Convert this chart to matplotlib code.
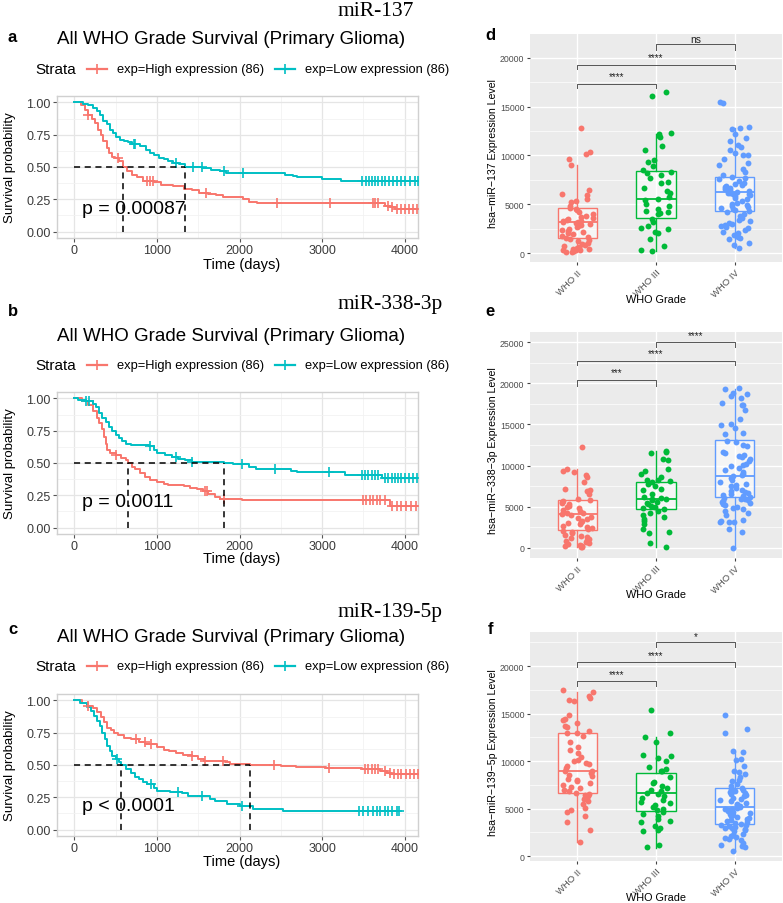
import numpy as np
import matplotlib
matplotlib.use("Agg")
import matplotlib.pyplot as plt
from matplotlib.lines import Line2D

plt.rcParams['font.family'] = ['Liberation Sans', 'DejaVu Sans']

W, H = 783, 904
RED, TEAL = '#F8766D', '#00BFC4'
BOXCOL = ['#F8766D', '#00BA38', '#619CFF']

# ---------------- Kaplan-Meier data ----------------
a_high_t = [0, 75, 130, 170, 210, 250, 290, 320, 350, 390, 420, 450, 490, 540, 590, 640, 700, 760, 830,
            960, 1050, 1200, 1330, 1420, 1510, 1620, 1710, 1800, 2040, 2120, 2210, 3760, 3820, 3880]
a_high_s = [1.0, 0.98, 0.94, 0.90, 0.87, 0.84, 0.79, 0.75, 0.70, 0.65, 0.61, 0.58, 0.57, 0.55, 0.50, 0.47,
            0.44, 0.42, 0.39, 0.38, 0.36, 0.35, 0.33, 0.32, 0.30, 0.29, 0.28, 0.27, 0.25, 0.23, 0.22, 0.20,
            0.19, 0.175]
a_high_c = [170, 530, 880, 920, 950, 1590, 2450, 3100, 3620, 3640, 3670, 3800, 3850, 3900, 3950, 4000,
            4050, 4100, 4150, 4250]
a_low_t = [0, 110, 170, 230, 270, 310, 350, 390, 430, 470, 510, 550, 600, 650, 700, 800, 870, 920, 960,
           1020, 1080, 1130, 1200, 1270, 1340, 1550, 1650, 1760, 1830, 2550, 2650, 2700, 3000, 3230]
a_low_s = [1.0, 0.99, 0.98, 0.96, 0.93, 0.90, 0.86, 0.83, 0.79, 0.76, 0.73, 0.71, 0.70, 0.69, 0.68, 0.66,
           0.63, 0.61, 0.59, 0.57, 0.56, 0.55, 0.53, 0.52, 0.50, 0.49, 0.48, 0.47, 0.455, 0.44, 0.43, 0.42,
           0.41, 0.395]
a_low_c = [720, 740, 1230, 1440, 1540, 1810, 2040, 3480, 3530, 3570, 3600, 3640, 3680, 3720, 3760, 3810,
           3860, 3900, 3950, 4000, 4060, 4120, 4160, 4250]
a_medians = [590, 1340]

b_high_t = [0, 90, 170, 230, 270, 300, 330, 360, 380, 400, 430, 500, 560, 620, 650, 700, 740, 800, 850,
            920, 1000, 1080, 1130, 1330, 1400, 1480, 1560, 1620, 1700, 1760, 2030, 3820]
b_high_s = [1.0, 0.98, 0.95, 0.90, 0.85, 0.81, 0.76, 0.70, 0.65, 0.60, 0.58, 0.56, 0.54, 0.52, 0.50, 0.47,
            0.45, 0.42, 0.39, 0.37, 0.35, 0.34, 0.33, 0.32, 0.31, 0.30, 0.28, 0.26, 0.24, 0.22, 0.21, 0.17]
b_high_c = [500, 1580, 1610, 1810, 3500, 3530, 3580, 3620, 3660, 3700, 3760, 3850, 3900, 3960, 4020,
            4080, 4140, 4250]
b_low_t = [0, 50, 140, 220, 260, 300, 340, 380, 420, 460, 500, 540, 580, 620, 680, 900, 960, 1000, 1100,
           1180, 1260, 1340, 1420, 1810, 1920, 2120, 2200, 2620, 2700, 3280, 3720]
b_low_s = [1.0, 0.99, 0.98, 0.96, 0.93, 0.89, 0.85, 0.82, 0.78, 0.75, 0.72, 0.69, 0.67, 0.65, 0.64, 0.63,
           0.60, 0.58, 0.56, 0.55, 0.53, 0.52, 0.51, 0.50, 0.49, 0.47, 0.455, 0.44, 0.43, 0.41, 0.385]
b_low_c = [140, 180, 920, 1230, 1430, 2030, 2430, 3080, 3480, 3520, 3560, 3600, 3640, 3680, 3760, 3800,
           3840, 3880, 3920, 3960, 4000, 4050, 4100, 4150, 4250]
b_medians = [652, 1810]

c_high_t = [0, 90, 170, 230, 280, 320, 360, 400, 440, 480, 530, 600, 680, 780, 860, 1000, 1080, 1150, 1230,
            1320, 1420, 1500, 1570, 1820, 1890, 2130, 2500, 2680, 3050, 3480, 3700, 3780, 3830]
c_high_s = [1.0, 0.98, 0.96, 0.94, 0.91, 0.87, 0.83, 0.79, 0.77, 0.75, 0.73, 0.71, 0.70, 0.68, 0.66, 0.64,
            0.62, 0.61, 0.59, 0.58, 0.57, 0.55, 0.53, 0.52, 0.51, 0.50, 0.495, 0.485, 0.48, 0.47, 0.455,
            0.44, 0.43]
c_high_c = [170, 750, 850, 930, 1430, 1580, 1800, 2420, 3080, 3520, 3560, 3600, 3640, 3680, 3760, 3820,
            3870, 3920, 3960, 4010, 4060, 4110, 4160, 4250]
c_low_t = [0, 70, 150, 200, 240, 280, 310, 340, 370, 400, 430, 460, 500, 540, 570, 620, 680, 730, 780, 830,
           880, 960, 1000, 1160, 1300, 1370, 1640, 1700, 1850, 2010, 2160, 2530, 3220]
c_low_s = [1.0, 0.98, 0.95, 0.92, 0.88, 0.84, 0.80, 0.75, 0.70, 0.65, 0.61, 0.57, 0.55, 0.52, 0.50, 0.47,
           0.44, 0.41, 0.39, 0.37, 0.35, 0.32, 0.30, 0.29, 0.28, 0.26, 0.24, 0.22, 0.20, 0.18, 0.16, 0.145,
           0.14]
c_low_c = [520, 930, 1250, 1550, 2030, 3450, 3500, 3560, 3620, 3660, 3700, 3760, 3800, 3850, 3900, 3930]
c_medians = [570, 2128]

p_texts = ["p = 0.00087", "p = 0.0011", "p < 0.0001"]
mirnas = ["miR-137", "miR-338-3p", "miR-139-5p"]

# ---------------- expression data (thousands) ----------------
grades = ["WHO II", "WHO III", "WHO IV"]

d_ii = [12.8, 10.4, 10.2, 9.6, 9.0, 6.5, 6.0, 5.9, 5.5, 5.3, 5.2, 4.8, 4.6, 4.5, 4.4, 4.2, 4.0, 3.8, 3.7,
        3.6, 3.5, 3.4, 3.3, 3.3, 3.2, 3.2, 3.1, 3.0, 2.9, 2.8, 2.7, 2.5, 2.4, 2.3, 2.2, 2.0, 1.9, 1.7, 1.6,
        1.5, 1.4, 1.3, 1.2, 1.0, 0.9, 0.8, 0.7, 0.6, 0.5, 0.4, 0.4, 0.3, 0.3, 0.2, 0.15, 0.1]
d_iii = [16.5, 16.1, 12.3, 12.2, 12.0, 11.9, 11.0, 10.6, 9.5, 9.3, 8.9, 8.5, 8.3, 8.2, 8.0, 7.7, 7.3, 7.2,
         6.7, 6.4, 6.2, 5.7, 5.5, 5.4, 5.0, 4.8, 4.5, 4.3, 4.2, 4.1, 4.0, 3.5, 3.2, 2.8, 2.6, 2.5, 2.2,
         2.0, 1.4, 0.7, 0.35, 0.2]
d_iv = [15.5, 15.4, 12.9, 12.8, 12.7, 12.2, 11.8, 11.5, 11.1, 10.9, 10.6, 10.3, 10.1, 10.0, 9.6, 9.2, 9.0,
        8.6, 8.3, 8.0, 7.8, 7.7, 7.6, 7.4, 7.2, 7.1, 7.0, 6.9, 6.8, 6.7, 6.6, 6.5, 6.4, 6.3, 6.2, 6.2, 6.1,
        6.0, 5.9, 5.8, 5.6, 5.5, 5.3, 5.1, 5.0, 4.9, 4.8, 4.7, 4.6, 4.5, 4.4, 4.3, 4.2, 4.0, 3.8, 3.6, 3.4,
        3.3, 3.1, 3.0, 2.9, 2.8, 2.7, 2.6, 2.4, 2.2, 2.0, 1.8, 1.6, 1.5, 1.4, 1.0, 0.8, 0.5]
e_ii = [12.2, 9.6, 9.4, 9.2, 8.8, 8.6, 8.0, 7.2, 7.0, 6.9, 6.5, 6.0, 5.8, 5.7, 5.6, 5.5, 5.3, 5.1, 5.0, 4.8,
        4.6, 4.5, 4.3, 4.2, 4.1, 4.0, 3.8, 3.6, 3.5, 3.3, 3.2, 3.0, 2.9, 2.7, 2.5, 2.4, 2.3, 2.1, 2.0, 1.8,
        1.6, 1.4, 1.3, 1.2, 1.1, 1.0, 0.9, 0.7, 0.6, 0.5, 0.4, 0.3, 0.3, 0.2, 0.15, 0.1]
e_iii = [11.8, 11.6, 11.5, 10.8, 10.7, 9.6, 9.3, 9.0, 8.6, 8.3, 8.2, 8.1, 8.0, 7.8, 7.5, 7.2, 7.0, 6.6,
         6.2, 6.1, 6.0, 5.9, 5.8, 5.6, 5.5, 5.3, 5.1, 5.0, 4.9, 4.7, 4.5, 4.3, 4.0, 3.8, 3.5, 3.3, 2.9,
         2.3, 2.0, 1.8, 0.6, 0.15]
e_iv = [19.4, 19.3, 18.8, 18.7, 18.5, 18.2, 17.6, 17.4, 17.3, 16.8, 15.7, 15.0, 14.9, 14.6, 14.0, 13.8,
        13.0, 12.9, 12.5, 12.4, 11.6, 11.5, 11.3, 11.2, 11.0, 10.8, 10.6, 10.2, 10.1, 9.9, 9.7, 9.5, 9.2,
        9.0, 8.8, 8.7, 8.5, 8.3, 8.0, 7.8, 7.6, 7.5, 7.3, 7.0, 6.9, 6.8, 6.7, 6.6, 6.4, 6.3, 6.2, 6.1, 6.0,
        5.9, 5.8, 5.7, 5.6, 5.5, 5.3, 5.2, 5.0, 4.9, 4.7, 4.5, 4.3, 4.0, 3.4, 3.3, 3.2, 3.1, 3.1, 2.3, 2.0,
        0.0]
f_ii = [17.5, 17.3, 16.8, 16.6, 16.4, 16.3, 14.8, 14.4, 14.3, 14.0, 13.7, 13.6, 13.2, 13.0, 12.9, 12.6,
        12.0, 11.5, 11.2, 10.8, 10.4, 10.1, 10.0, 9.8, 9.7, 9.5, 9.3, 9.0, 8.9, 8.7, 8.5, 8.4, 8.1, 8.0,
        7.9, 7.7, 7.5, 7.3, 7.2, 6.9, 6.8, 6.6, 6.5, 6.4, 6.3, 6.1, 6.0, 5.8, 5.5, 5.1, 4.8, 4.6, 4.2,
        3.6, 2.7, 1.5]
f_iii = [15.4, 13.0, 12.5, 12.0, 10.6, 10.5, 10.3, 10.0, 9.4, 9.2, 9.0, 8.9, 8.3, 7.8, 7.7, 7.4, 7.2, 7.0,
         6.8, 6.6, 6.5, 6.3, 6.1, 5.9, 5.7, 5.6, 5.4, 5.2, 5.0, 4.8, 4.6, 4.4, 4.2, 3.9, 3.7, 3.6, 3.2,
         3.0, 2.7, 2.6, 1.2, 0.9]
f_iv = [14.8, 13.4, 12.9, 11.1, 11.0, 10.2, 10.1, 9.5, 9.0, 8.8, 8.6, 8.3, 8.0, 7.9, 7.6, 7.4, 7.2, 7.1,
        7.0, 6.9, 6.8, 6.7, 6.6, 6.5, 6.4, 6.3, 6.1, 6.0, 5.9, 5.8, 5.6, 5.5, 5.4, 5.3, 5.2, 5.1, 5.0, 4.9,
        4.8, 4.7, 4.6, 4.5, 4.4, 4.3, 4.2, 4.1, 4.0, 3.9, 3.8, 3.7, 3.6, 3.5, 3.4, 3.3, 3.3, 3.2, 3.1,
        3.0, 2.9, 2.8, 2.7, 2.6, 2.3, 2.2, 2.1, 2.0, 1.9, 1.8, 1.7, 1.4, 1.2, 1.1, 1.0, 0.5]

# box statistics (thousands): q1, median, q3, lower whisker, upper whisker
d_box = [[1.50, 3.21, 4.57, 0.10, 9.04], [3.55, 5.49, 8.36, 0.20, 12.25], [4.33, 6.21, 7.82, 0.50, 12.87]]
e_box = [[2.23, 4.18, 5.80, 0.10, 9.58], [4.71, 5.97, 8.04, 0.12, 11.8], [6.13, 8.68, 13.1, 0.0, 19.3]]
f_box = [[6.62, 8.98, 12.92, 1.48, 17.3], [4.75, 6.58, 8.70, 0.88, 12.5], [3.42, 5.21, 7.11, 0.53, 11.0]]

# significance brackets: (from, to, label)
d_sig = [(1, 2, "****"), (1, 3, "****"), (2, 3, "ns")]
e_sig = [(1, 2, "***"), (1, 3, "****"), (2, 3, "****")]
f_sig = [(1, 2, "****"), (1, 3, "****"), (2, 3, "*")]

fig = plt.figure(figsize=(W / 100, H / 100), dpi=100)


def px_axes(L, R, T, B):
    return fig.add_axes([L / W, 1 - B / H, (R - L) / W, (B - T) / H])


def ftext(x, y, s, **kw):
    fig.text(x / W, 1 - y / H, s, **kw)


def step_curve(ax, t, s, cens, col):
    t = np.array(t, float)
    s = np.array(s, float)
    end = max(t[-1], max(cens))
    tt = np.append(t, end)
    ss = np.append(s, s[-1])
    ax.step(tt, ss, where='post', color=col, lw=1.4, zorder=3)
    idx = np.searchsorted(t, cens, side='right') - 1
    ax.plot(cens, s[idx], '+', ms=7, mew=1.2, color=col, zorder=4, clip_on=True)


km_rows = [
    (97, 239, a_high_t, a_high_s, a_high_c, a_low_t, a_low_s, a_low_c, a_medians),
    (393, 535, b_high_t, b_high_s, b_high_c, b_low_t, b_low_s, b_low_c, b_medians),
    (695, 837, c_high_t, c_high_s, c_high_c, c_low_t, c_low_s, c_low_c, c_medians),
]
title_y = [40, 337, 638]
legend_y = [70, 366, 667]
mir_y = [11, 305, 612]
letter_y = [37, 312, 630]
tlab_y = [265, 559, 862]
p_y = [0.18, 0.20, 0.19]

for i, (T, B, ht, hs, hc, lt, ls, lc, meds) in enumerate(km_rows):
    ax = px_axes(57, 418, T, B)
    ax.set_xlim(-210, 4160)
    ax.set_ylim(-0.05, 1.05)
    ax.set_xticks([0, 1000, 2000, 3000, 4000])
    ax.set_yticks([0, 0.25, 0.5, 0.75, 1.0])
    ax.set_yticklabels(["0.00", "0.25", "0.50", "0.75", "1.00"])
    ax.set_xticks([500, 1500, 2500, 3500], minor=True)
    ax.set_yticks([0.125, 0.375, 0.625, 0.875], minor=True)
    ax.grid(True, which='major', color='#E5E5E5', lw=0.9)
    ax.grid(True, which='minor', color='#F2F2F2', lw=0.6)
    ax.set_axisbelow(True)
    for sp in ax.spines.values():
        sp.set_color('#D0D0D0')
        sp.set_linewidth(1.0)
    ax.tick_params(which='major', length=3, color='#555555', labelsize=9, labelcolor='#3A3A3A', pad=1.5)
    ax.tick_params(which='minor', length=0)

    step_curve(ax, ht, hs, hc, RED)
    step_curve(ax, lt, ls, lc, TEAL)

    ax.plot([0, max(meds)], [0.5, 0.5], color='black', lw=1.1, dashes=(4, 3), zorder=5)
    for m in meds:
        ax.plot([m, m], [0, 0.5], color='black', lw=1.1, dashes=(4, 3), zorder=5)
    ax.text(90, p_y[i], p_texts[i], fontsize=14, va='center', ha='left', zorder=6)

    ftext(57, title_y[i], "All WHO Grade Survival (Primary Glioma)", fontsize=13.5, va='center', ha='left')
    ftext(35, legend_y[i], "Strata", fontsize=11, va='center', ha='left')
    for x0, col, lab in [(87, RED, "exp=High expression (86)"), (275, TEAL, "exp=Low expression (86)")]:
        fig.add_artist(Line2D([x0 / W, (x0 + 20) / W], [1 - legend_y[i] / H] * 2, color=col, lw=1.6))
        fig.add_artist(Line2D([(x0 + 10) / W], [1 - legend_y[i] / H], marker='+', ms=7, mew=1.2, color=col))
        ftext(x0 + 30, legend_y[i], lab, fontsize=9.3, va='center', ha='left')
    ftext(337, mir_y[i], mirnas[i], fontsize=15.5, family='Liberation Serif', va='center', ha='left')
    ftext(8, letter_y[i], "abc"[i], fontsize=12, fontweight='bold', va='center', ha='left')
    ftext(242, tlab_y[i], "Time (days)", fontsize=10.5, va='center', ha='center')
    ftext(10, (T + B) / 2, "Survival probability", fontsize=9.5, va='center', ha='center', rotation=90)

# ---------------- box plots ----------------
box_rows = [
    (35, 263, (-923, 22460), [0, 5000, 10000, 15000, 20000], [d_ii, d_iii, d_iv], d_box, d_sig,
     [(17.37, 16.96, 18.1), (19.3, 18.85, 20.1), (21.4, 20.85, 21.95)], "hsa\u2212miR\u2212137 Expression Level"),
    (333, 559, (-1214, 26214), [0, 5000, 10000, 15000, 20000, 25000], [e_ii, e_iii, e_iv], e_box, e_sig,
     [(20.33, 19.7, 21.3), (22.7, 22.2, 23.6), (25.0, 24.4, 25.9)], "hsa\u2212miR\u2212338\u22123p Expression Level"),
    (633, 862, (-526, 23579), [0, 5000, 10000, 15000, 20000], [f_ii, f_iii, f_iv], f_box, f_sig,
     [(18.45, 17.9, 19.1), (20.45, 19.9, 21.2), (22.5, 22.0, 23.2)], "hsa\u2212miR\u2212139\u22125p Expression Level"),
]
grade_y = [300, 595, 898]
rng = np.random.default_rng(7)

for i, (T, B, ylim, yt, groups, bstats, sig, sig_pos, ylab) in enumerate(box_rows):
    ax = px_axes(530, 782, T, B)
    ax.set_facecolor('#EBEBEB')
    for sp in ax.spines.values():
        sp.set_visible(False)
    ax.set_xlim(0.4, 3.6)
    ax.set_ylim(*ylim)
    ax.set_yticks(yt)
    ax.set_yticklabels([str(v) for v in yt])
    ax.set_yticks([v + 2500 for v in yt[:-1]] + ([yt[-1] + 2500] if yt[-1] + 2500 < ylim[1] else []), minor=True)
    ax.set_xticks([1, 2, 3])
    ax.set_xticklabels(grades, rotation=45, ha='right', va='top', rotation_mode='anchor')
    ax.grid(True, which='major', color='white', lw=1.0)
    ax.grid(True, which='minor', axis='y', color='white', lw=0.5)
    ax.set_axisbelow(True)
    ax.tick_params(which='major', length=2.5, color='#444444', labelsize=6.3, labelcolor='#4D4D4D', pad=1.5)
    ax.tick_params(axis='x', which='major', labelsize=6.8)
    ax.tick_params(which='minor', length=0)

    stats = []
    for q1, med, q3, lo, hi in bstats:
        stats.append(dict(q1=q1 * 1000, med=med * 1000, q3=q3 * 1000, whislo=lo * 1000, whishi=hi * 1000, fliers=[]))
    bp = ax.bxp(stats, positions=[1, 2, 3], widths=0.5, patch_artist=True, showfliers=False,
                showcaps=False, manage_ticks=False)
    for k in range(3):
        col = BOXCOL[k]
        bp['boxes'][k].set_facecolor((1, 1, 1, 0.55))
        bp['boxes'][k].set_edgecolor(col)
        bp['boxes'][k].set_linewidth(1.0)
        bp['medians'][k].set_color(col)
        bp['medians'][k].set_linewidth(1.3)
        for w in bp['whiskers'][2 * k:2 * k + 2]:
            w.set_color(col)
            w.set_linewidth(1.0)

    for k, vals in enumerate(groups):
        vals = np.array(vals) * 1000
        jit = rng.uniform(-0.2, 0.2, len(vals))
        ax.scatter(k + 1 + jit, vals, s=18, color=BOXCOL[k], linewidths=0, zorder=4)

    for (x1, x2, lab), (yb, ytip, ylab_pos) in zip(sig, sig_pos):
        ax.plot([x1, x1, x2, x2], [ytip * 1000, yb * 1000, yb * 1000, ytip * 1000], color='#555555', lw=0.7)
        ax.text((x1 + x2) / 2, ylab_pos * 1000, lab, ha='center', va='center',
                fontsize=7.5 if lab == 'ns' else 7, color='#222222')

    ftext(490, letter_y[i] if i else 35, "def"[i], fontsize=12, fontweight='bold', va='center', ha='center')
    ftext(656, grade_y[i], "WHO Grade", fontsize=7.8, va='center', ha='center')
    ftext(493, (T + B) / 2 + 5, ylab, fontsize=7.6, va='center', ha='center', rotation=90)

fig.savefig("out.png", dpi=100)
